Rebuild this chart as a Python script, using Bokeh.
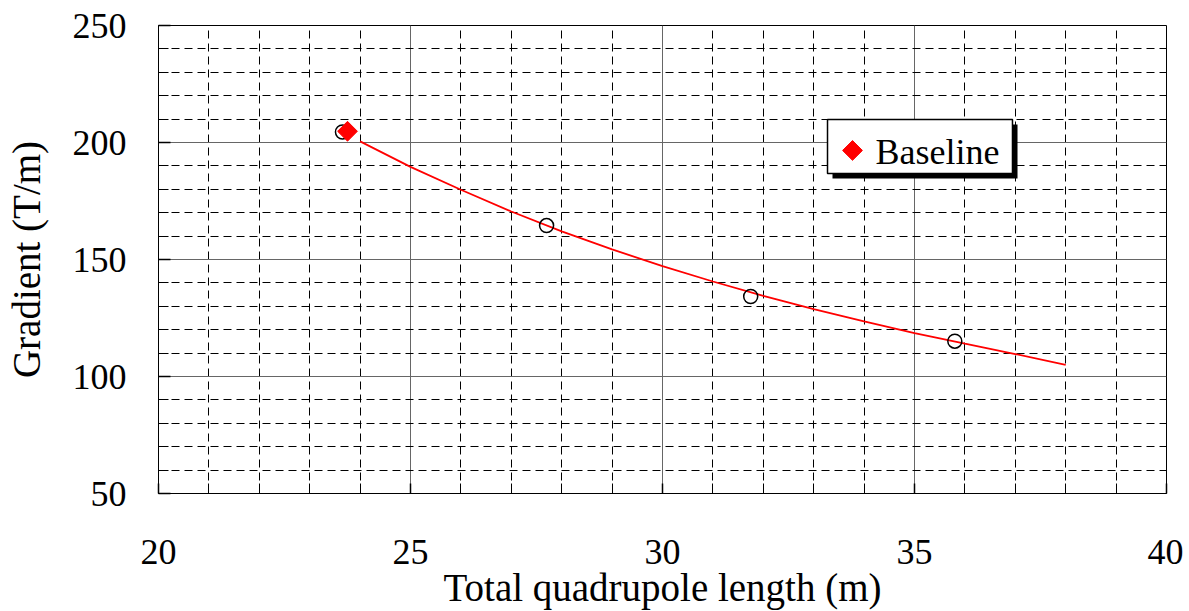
import numpy as np
from bokeh.plotting import figure
from bokeh.models import FixedTicker, Range1d, Label
from bokeh.embed import file_html
from bokeh.resources import INLINE

# ---- data ----
point_length = [23.65, 27.7, 31.75, 35.8]
point_gradient = [204.5, 164.5, 134.2, 115.1]

baseline_length = [23.75]
baseline_gradient = [204.8]

fit_length = [24, 25, 26, 27, 28, 29, 30, 31, 32, 33, 34, 35, 36, 37, 38]
fit_gradient = [200.5, 189.6, 179.8, 170.5, 162.0, 154.3, 147.2, 140.6, 134.5,
                128.8, 123.6, 118.5, 114.0, 109.6, 105.0]

x_major = [20, 25, 30, 35, 40]
y_major = [50, 100, 150, 200, 250]
x_minor = [v for v in range(20, 41) if v not in x_major]
y_minor = [v for v in range(50, 251, 10) if v not in y_major]

legend_label = "Baseline"

FONT = "Liberation Serif"

p = figure(width=1183, height=611,
           x_range=Range1d(20, 40), y_range=Range1d(50, 250),
           output_backend="svg", toolbar_location=None,
           min_border_left=158, min_border_right=17,
           min_border_top=25, min_border_bottom=118)

p.background_fill_color = "white"
p.border_fill_color = "white"
p.outline_line_color = "black"
p.outline_line_width = 1

p.xaxis.ticker = FixedTicker(ticks=x_major, minor_ticks=x_minor)
p.yaxis.ticker = FixedTicker(ticks=y_major, minor_ticks=y_minor)

for g in (p.xgrid, p.ygrid):
    g.grid_line_color = "#666666"
    g.grid_line_width = 1
    g.minor_grid_line_color = "black"
    g.minor_grid_line_width = 1
    g.minor_grid_line_dash = "8 5"

for ax in (p.xaxis, p.yaxis):
    ax.axis_line_color = "black"
    ax.major_tick_out = 0
    ax.minor_tick_out = 0
    ax.minor_tick_in = 10
    ax.major_tick_line_color = "black"
    ax.minor_tick_line_color = "black"
    ax.major_tick_line_width = 1.5
    ax.major_label_text_font = FONT
    ax.major_label_text_font_size = "36px"
    ax.major_label_text_color = "black"
    ax.axis_label_text_font = FONT
    ax.axis_label_text_font_size = "39px"
    ax.axis_label_text_font_style = "normal"
    ax.axis_label_text_color = "black"

p.xaxis.major_tick_in = 10
p.yaxis.major_tick_in = 12

p.xaxis.axis_label = "Total quadrupole length (m)"
p.yaxis.axis_label = "Gradient (T/m)"
p.xaxis.major_label_standoff = 46
p.xaxis.axis_label_standoff = -1
p.yaxis.major_label_standoff = 32
p.yaxis.axis_label_standoff = 22

# fitted curve
p.line(fit_length, fit_gradient, line_color="red", line_width=1.8)

# open circles
p.scatter(point_length, point_gradient, marker="circle", size=14,
          fill_color=None, line_color="black", line_width=1.5)

# baseline diamond
p.scatter(baseline_length, baseline_gradient, marker="square",
          angle=np.pi / 4, size=14, fill_color="red", line_color="red")

# ---- legend box (shadow + framed white box + key + label) ----
p.quad(left=[33.373], right=[37.044], top=[207.69], bottom=[184.62],
       fill_color="black", line_color=None)
p.quad(left=[33.274], right=[36.944], top=[209.83], bottom=[186.75],
       fill_color="white", line_color="black", line_width=1.5)
p.scatter([33.77], [196.6], marker="square", angle=np.pi / 4,
          size=14, fill_color="red", line_color="red")
p.add_layout(Label(x=34.226, y=195.8, text=legend_label,
                   text_font=FONT, text_font_size="36px",
                   text_color="black", text_baseline="alphabetic",
                   text_align="left"))

open("out.html", "w").write(file_html(p, INLINE))
